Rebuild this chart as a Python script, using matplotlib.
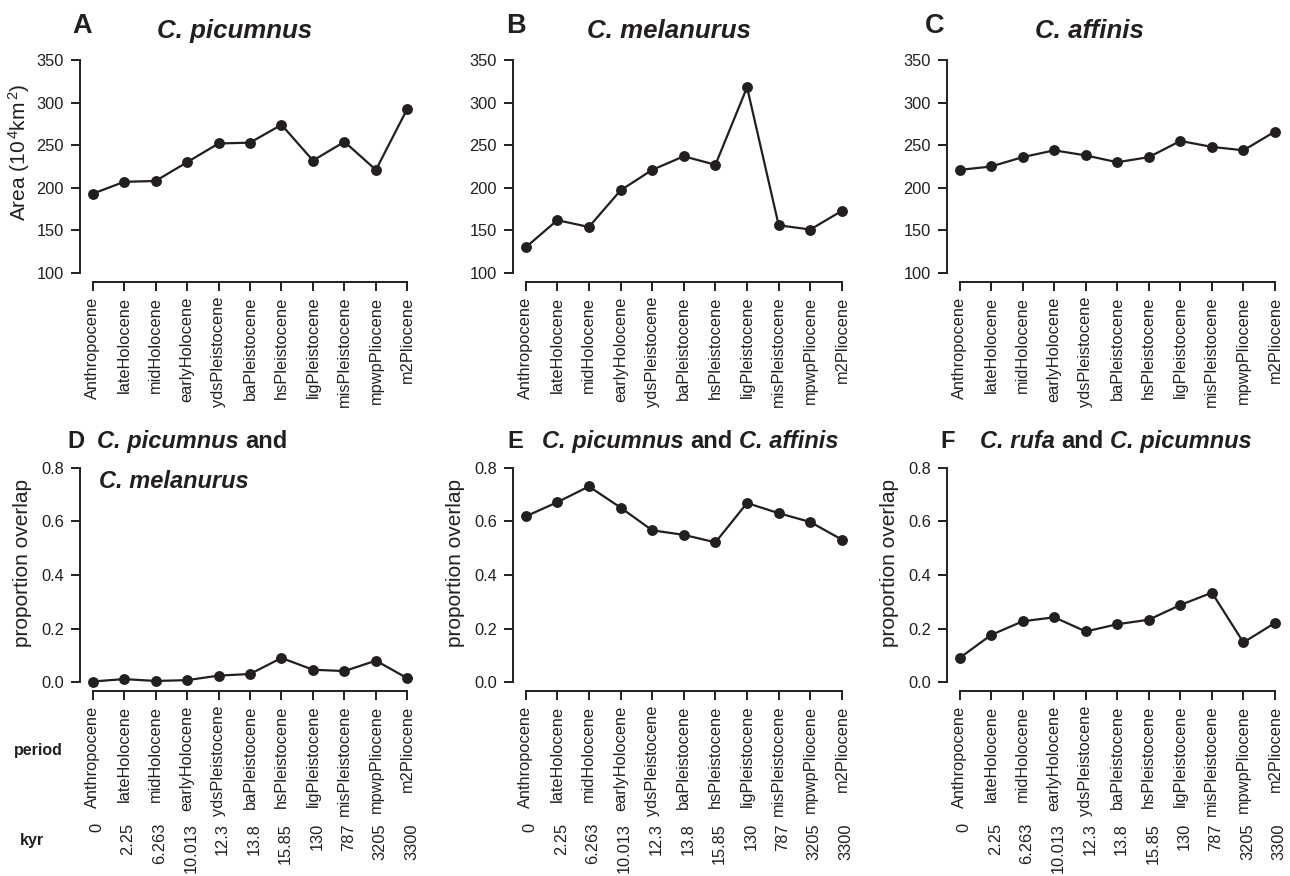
import matplotlib
matplotlib.use('Agg')
import matplotlib.pyplot as plt
from matplotlib import transforms

plt.rcParams['font.family'] = ['Liberation Sans', 'DejaVu Sans']
plt.rcParams['mathtext.fontset'] = 'custom'
plt.rcParams['mathtext.rm'] = 'Liberation Sans'
plt.rcParams['mathtext.it'] = 'Liberation Sans:italic'

# periods (oldest to the right) and their ages in kyr
periods = ['Anthropocene', 'lateHolocene', 'midHolocene', 'earlyHolocene',
           'ydsPleistocene', 'baPleistocene', 'hsPleistocene', 'ligPleistocene',
           'misPleistocene', 'mpwpPliocene', 'm2Pliocene']
kyr = ['0', '2.25', '6.263', '10.013', '12.3', '13.8', '15.85', '130',
       '787', '3205', '3300']

# range area (10^4 km^2)
area_picumnus = [193, 207, 208, 230, 252, 253, 274, 232, 254, 221, 293]
area_melanurus = [130, 162, 154, 197, 221, 237, 227, 318, 156, 151, 173]
area_affinis = [221, 225, 236, 244, 238, 230, 236, 255, 248, 244, 266]

# proportion of range overlap
ov_pic_mel = [0.002, 0.011, 0.004, 0.007, 0.024, 0.030, 0.090, 0.046, 0.041, 0.080, 0.014]
ov_pic_aff = [0.619, 0.672, 0.731, 0.652, 0.567, 0.550, 0.522, 0.669, 0.631, 0.598, 0.532]
ov_rufa_pic = [0.090, 0.176, 0.227, 0.242, 0.189, 0.216, 0.233, 0.288, 0.334, 0.148, 0.221]

W, H = 1290, 876
ink = '#231f20'
fig = plt.figure(figsize=(W / 100, H / 100), dpi=100)


def px_rect(l, t, r, b):
    return [l / W, 1 - b / H, (r - l) / W, (b - t) / H]


def panel(rect, y, ylo, yhi, yticks, yfmt, ylabel=None, label_y=0.55, kyr_row=False):
    ax = fig.add_axes(px_rect(*rect))
    x = list(range(1, len(periods) + 1))
    ax.plot(x, y, color=ink, lw=1.6, marker='o', ms=6.8, mfc=ink, mec=ink, clip_on=False)
    pad = (yhi - ylo) * 0.04
    ax.set_xlim(0.6, 11.4)
    ax.set_ylim(ylo - pad, yhi + pad)
    for s in ['top', 'right']:
        ax.spines[s].set_visible(False)
    ax.spines['left'].set_bounds(ylo, yhi)
    ax.spines['bottom'].set_bounds(1, 11)
    for s in ['left', 'bottom']:
        ax.spines[s].set_linewidth(1.4)
        ax.spines[s].set_color(ink)
    ax.set_yticks(yticks, [yfmt.format(v) for v in yticks])
    ax.set_xticks(x, periods, rotation=90)
    ax.tick_params(axis='both', length=6.5, width=1.4, color=ink, labelcolor=ink, labelsize=11.8)
    ax.tick_params(axis='y', pad=5.0)
    ax.tick_params(axis='x', pad=4.5)
    if ylabel:
        ax.set_ylabel(ylabel, fontsize=15, color=ink)
        axw = rect[2] - rect[0]
        ax.yaxis.set_label_coords(-48 / axw, label_y)
    if kyr_row:
        tr = transforms.blended_transform_factory(ax.transData, fig.transFigure)
        tr = transforms.offset_copy(tr, fig=fig, x=4, y=0, units='dots')
        for xi, k in zip(x, kyr):
            ax.text(xi, 1 - 823 / H, k, transform=tr, rotation=90, ha='center', va='top',
                    fontsize=11.8, color=ink)
    return ax


def title(x, y, parts, size):
    # parts drawn one after another in bold; italic for species names
    r = fig.canvas.get_renderer()
    for s, style in parts:
        t = fig.text(x / W, 1 - y / H, s, fontsize=size, fontweight='bold', fontstyle=style,
                     ha='left', va='baseline', color=ink)
        x += t.get_window_extent(renderer=r).width + 0.28 * size * 1.389


area_ticks = [100, 150, 200, 250, 300, 350]
ov_ticks = [0.0, 0.2, 0.4, 0.6, 0.8]
top = (51.5, 281.5)
bot = (459.4, 690.6)
cols = [(80, 420), (513, 854.6), (947, 1287.6)]

panel((cols[0][0], top[0], cols[0][1], top[1]), area_picumnus, 100, 350, area_ticks, '{:d}',
      ylabel='Area (10$^{\\,4}$km$^{\\,2}$)', label_y=0.56)
panel((cols[1][0], top[0], cols[1][1], top[1]), area_melanurus, 100, 350, area_ticks, '{:d}')
panel((cols[2][0], top[0], cols[2][1], top[1]), area_affinis, 100, 350, area_ticks, '{:d}')

for (l, r), vals in zip(cols, [ov_pic_mel, ov_pic_aff, ov_rufa_pic]):
    panel((l, bot[0], r, bot[1]), vals, 0.0, 0.8, ov_ticks, '{:.1f}',
          ylabel='proportion overlap', label_y=0.552, kyr_row=True)

# panel letters and titles
for x, letter in [(72, 'A'), (506, 'B'), (925, 'C')]:
    fig.text(x / W, 1 - 33 / H, letter, fontsize=19.5, fontweight='bold', color=ink, va='baseline')
for x, letter in [(67, 'D'), (507, 'E'), (940, 'F')]:
    fig.text(x / W, 1 - 448 / H, letter, fontsize=17, fontweight='bold', color=ink, va='baseline')

title(157, 38, [('C. picumnus', 'italic')], 18.6)
title(587, 38, [('C. melanurus', 'italic')], 18.6)
title(1035, 38, [('C. affinis', 'italic')], 18.6)
title(97, 448, [('C. picumnus', 'italic'), ('and', 'normal')], 17)
title(99, 488, [('C. melanurus', 'italic')], 17)
title(542, 448, [('C. picumnus', 'italic'), ('and', 'normal'), ('C. affinis', 'italic')], 17)
title(980, 448, [('C. rufa', 'italic'), ('and', 'normal'), ('C. picumnus', 'italic')], 17)

# row labels for the x axis annotations
fig.text(38 / W, 1 - 750 / H, 'period', fontsize=11.5, fontweight='bold', color=ink,
         ha='center', va='center')
fig.text(32 / W, 1 - 840 / H, 'kyr', fontsize=11.5, fontweight='bold', color=ink,
         ha='center', va='center')

fig.savefig('out.png', dpi=100)
